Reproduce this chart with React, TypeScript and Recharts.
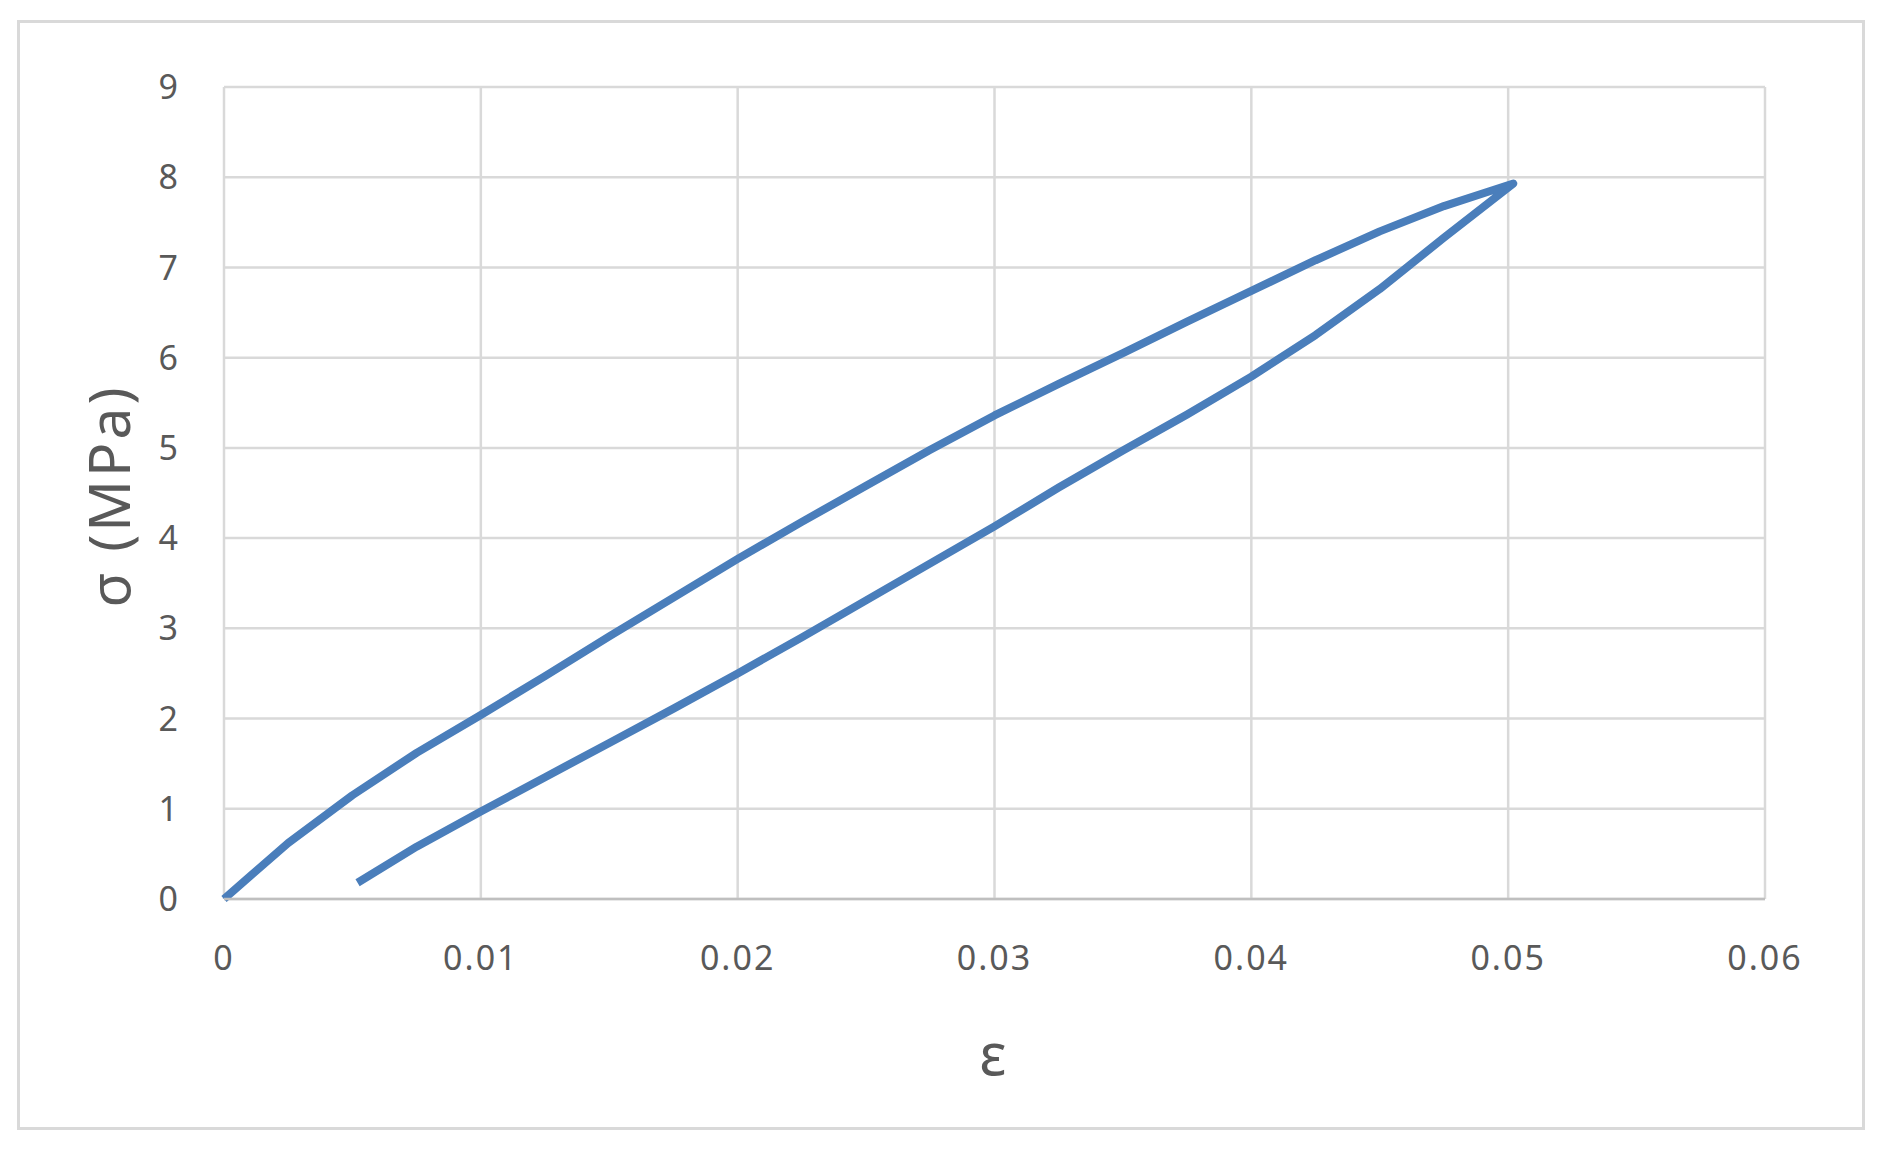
import { LineChart, Line, XAxis, YAxis, CartesianGrid } from "recharts";

// loading branch (strain, stress in MPa)
const LOAD_STRAIN = [0, 0.001, 0.0025, 0.005, 0.0075, 0.01, 0.0125, 0.015, 0.0175, 0.02, 0.0225, 0.025, 0.0275, 0.03, 0.0325, 0.035, 0.0375, 0.04, 0.0425, 0.045, 0.0475, 0.0502];
const LOAD_STRESS = [0, 0.25, 0.62, 1.15, 1.62, 2.04, 2.47, 2.91, 3.34, 3.77, 4.18, 4.58, 4.98, 5.36, 5.71, 6.05, 6.4, 6.74, 7.08, 7.4, 7.68, 7.93];

// unloading branch, back down from the peak
const UNLOAD_STRAIN = [0.0475, 0.045, 0.0425, 0.04, 0.0375, 0.035, 0.0325, 0.03, 0.0275, 0.025, 0.0225, 0.02, 0.0175, 0.015, 0.0125, 0.01, 0.0075, 0.0052];
const UNLOAD_STRESS = [7.33, 6.76, 6.25, 5.79, 5.37, 4.97, 4.56, 4.13, 3.72, 3.31, 2.9, 2.5, 2.11, 1.73, 1.35, 0.97, 0.58, 0.18];

const X_TICKS = [0, 0.01, 0.02, 0.03, 0.04, 0.05, 0.06];
const Y_TICKS = [0, 1, 2, 3, 4, 5, 6, 7, 8, 9];

const loop = [
  ...LOAD_STRAIN.map((e, i) => ({ e, s: LOAD_STRESS[i] })),
  ...UNLOAD_STRAIN.map((e, i) => ({ e, s: UNLOAD_STRESS[i] })),
];

const BLUE = "#4a7ebb";
const GRID = "#d9d9d9";
const TEXT = "#595959";
const FONT = "'Noto Sans', sans-serif";

const tickStyle = { fill: TEXT, fontSize: 34, fontFamily: FONT, letterSpacing: 2 };

export default function App() {
  return (
    <div style={{ position: "absolute", left: 0, top: 0, width: 1879, height: 1174, background: "#fff" }}>
      <div
        style={{
          position: "absolute",
          left: 17,
          top: 20,
          width: 1842,
          height: 1104,
          border: "3px solid #d9d9d9",
        }}
      />
      <LineChart
        width={1879}
        height={1174}
        data={loop}
        margin={{ top: 87, right: 114, bottom: 195, left: 144 }}
        style={{ position: "absolute", left: 0, top: 0 }}
      >
        <CartesianGrid stroke={GRID} strokeWidth={2.5} />
        <XAxis
          dataKey="e"
          type="number"
          domain={[0, 0.06]}
          ticks={X_TICKS}
          tickFormatter={(v) => String(v)}
          height={80}
          tickLine={false}
          tickSize={0}
          tickMargin={47}
          axisLine={{ stroke: "#bfbfbf", strokeWidth: 2.5 }}
          tick={tickStyle}
        />
        <YAxis
          dataKey="s"
          type="number"
          domain={[0, 9]}
          ticks={Y_TICKS}
          width={80}
          tickLine={false}
          tickSize={0}
          tickMargin={44}
          axisLine={false}
          tick={tickStyle}
        />
        <Line
          dataKey="s"
          type="linear"
          stroke={BLUE}
          strokeWidth={8}
          strokeLinejoin="round"
          dot={false}
          isAnimationActive={false}
        />
      </LineChart>
      <div
        style={{
          position: "absolute",
          left: 108,
          top: 496,
          transform: "translate(-50%, -50%) rotate(-90deg)",
          whiteSpace: "nowrap",
          fontFamily: FONT,
          fontSize: 57,
          letterSpacing: 3,
          color: TEXT,
        }}
      >
        σ (MPa)
      </div>
      <div
        style={{
          position: "absolute",
          left: 993,
          top: 1052,
          transform: "translate(-50%, -50%)",
          fontFamily: FONT,
          fontSize: 58,
          color: TEXT,
        }}
      >
        ε
      </div>
    </div>
  );
}
